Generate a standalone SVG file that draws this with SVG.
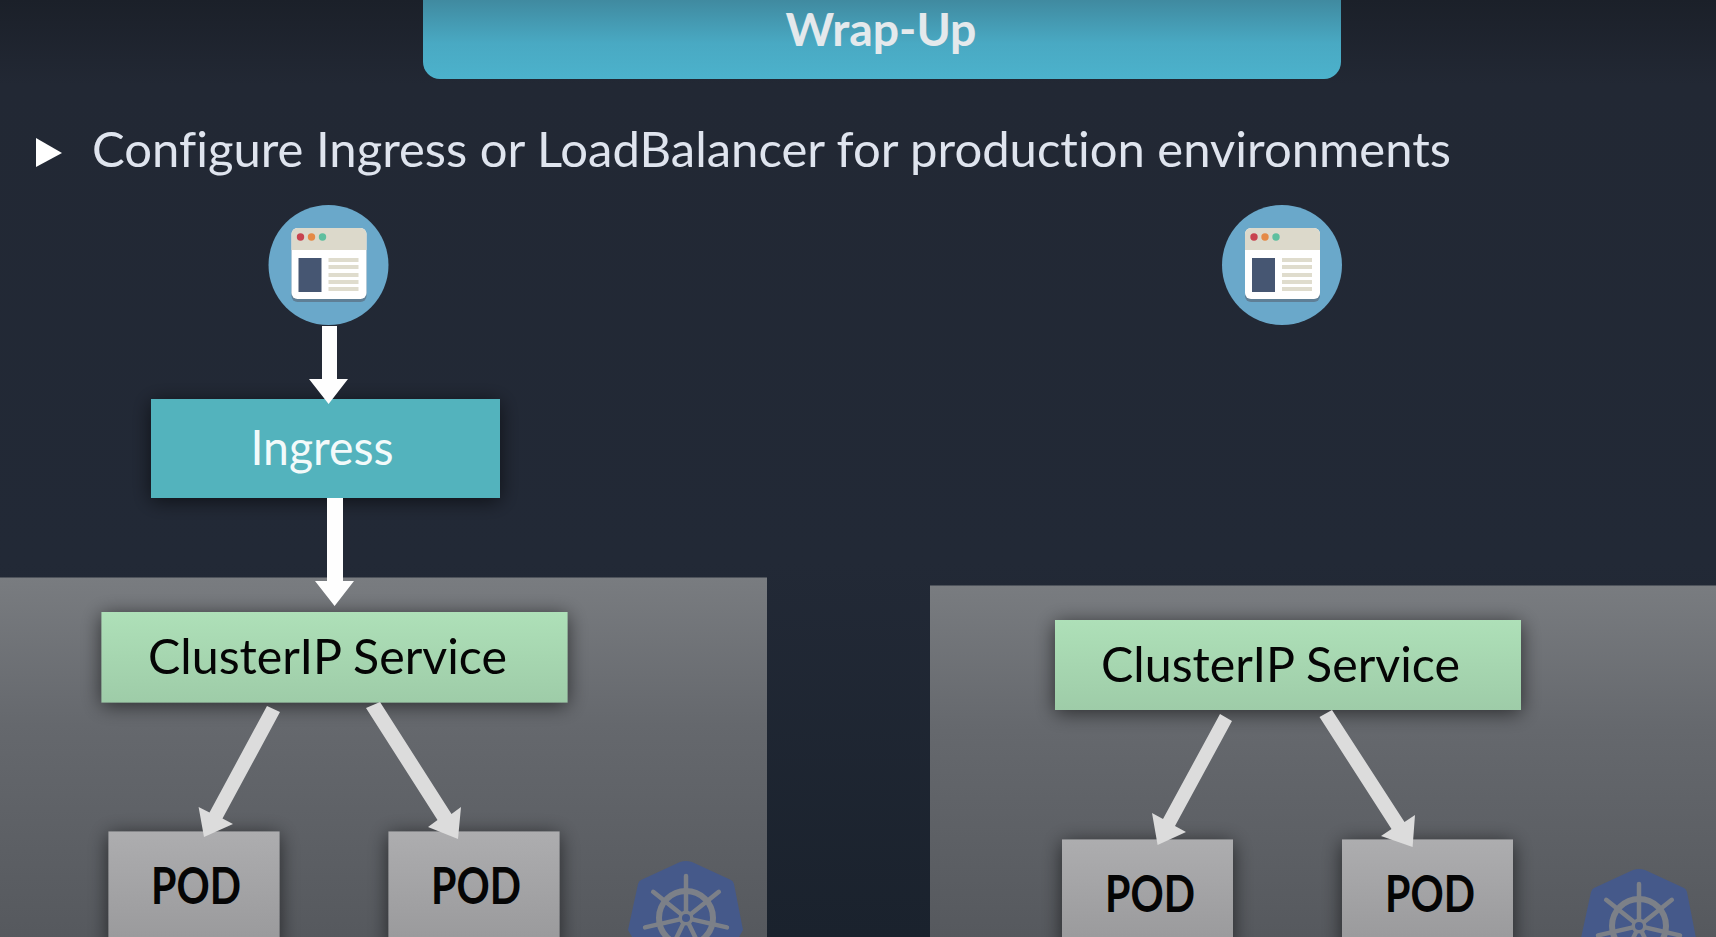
<svg xmlns="http://www.w3.org/2000/svg" width="1716" height="937" viewBox="0 0 1716 937">
<style>
text{font-family:"Lato","Open Sans","Liberation Sans",sans-serif;font-variant-ligatures:none}
.big{font-size:48px}
.pod{font-size:51px;font-weight:700;fill:#050505}
.ci{font-size:49px;fill:#050505}
.arrw{fill:#fefefe}
.arrg{fill:#dcdcdc}
</style>
<defs>
<linearGradient id="bg" x1="0" y1="0" x2="0" y2="1"><stop offset="0" stop-color="#1b2029"/><stop offset=".09" stop-color="#222834"/><stop offset=".6" stop-color="#222936"/><stop offset="1" stop-color="#1a222d"/></linearGradient>
<linearGradient id="banner" x1="0" y1="0" x2="0" y2="1"><stop offset="0" stop-color="#3e8398"/><stop offset=".6" stop-color="#49a9c3"/><stop offset="1" stop-color="#4cb2cc"/></linearGradient>
<linearGradient id="panel" x1="0" y1="0" x2="0" y2="1"><stop offset="0" stop-color="#797c80"/><stop offset=".4" stop-color="#65686d"/><stop offset="1" stop-color="#55585d"/></linearGradient>
<linearGradient id="green" x1="0" y1="0" x2="0" y2="1"><stop offset="0" stop-color="#aee0b8"/><stop offset="1" stop-color="#9ecca8"/></linearGradient>
<linearGradient id="podg" x1="0" y1="0" x2="0" y2="1"><stop offset="0" stop-color="#adadaf"/><stop offset="1" stop-color="#99999b"/></linearGradient>
<filter id="sh" x="-15%" y="-30%" width="130%" height="160%"><feDropShadow dx="0" dy="3" stdDeviation="10" flood-color="#000" flood-opacity=".6"/></filter>
<g id="browser">
<circle cx="0" cy="0" r="60" fill="#6aa8ca"/>
<rect x="-37" y="-35" width="75" height="72" rx="6" fill="#5f7f96"/>
<rect x="-37" y="-37" width="75" height="71" rx="6" fill="#ffffff"/>
<path d="M-37 -15V-31a6 6 0 0 1 6-6H32a6 6 0 0 1 6 6V-15Z" fill="#dcd9cb"/>
<circle cx="-28" cy="-28" r="3.700" fill="#c8434f"/><circle cx="-17" cy="-28" r="3.700" fill="#e58a46"/><circle cx="-6" cy="-28" r="3.700" fill="#5fbf9f"/>
<rect x="-30" y="-7" width="23" height="34" fill="#465672"/>
<g fill="#dfdccd"><rect x="0" y="-7" width="30" height="4"/><rect x="0" y="0" width="30" height="4"/><rect x="0" y="8" width="30" height="4"/><rect x="0" y="15" width="30" height="4"/><rect x="0" y="22" width="30" height="4"/></g>
</g>
<g id="k8s">
<path d="M-6 -56Q0 -58 6 -56L45 -38Q47 -37 48 -34L57 12L30 60H-30L-58 12L-48 -34Q-47 -37 -45 -38Z" fill="#45598a"/>
<g fill="none" stroke="#7c8088">
<circle cx="0" cy="0" r="27" stroke-width="6"/>
<g stroke-width="4.500" stroke-linecap="round">
<path d="M0 -4V-42"/>
<path d="M0 -4V-42" transform="rotate(51.4)"/><path d="M0 -4V-42" transform="rotate(102.9)"/><path d="M0 -4V-42" transform="rotate(154.3)"/><path d="M0 -4V-42" transform="rotate(205.7)"/><path d="M0 -4V-42" transform="rotate(257.1)"/><path d="M0 -4V-42" transform="rotate(308.6)"/>
</g>
</g>
<circle cx="0" cy="0" r="7.500" fill="#7c8088"/><circle cx="0" cy="0" r="4" fill="#45598a"/>
</g>
</defs>
<rect id="background" width="1716" height="937" fill="url(#bg)"/>
<g id="title">
<path d="M423 -10H1341V62a17 17 0 0 1-17 17H440a17 17 0 0 1-17-17Z" fill="url(#banner)"/>
<text x="881" y="46" text-anchor="middle" font-size="46" font-weight="700" fill="#e4e9ec" textLength="191" lengthAdjust="spacingAndGlyphs">Wrap-Up</text>
</g>
<g id="bullet">
<polygon points="36,138 36,167 62,153" fill="#ffffff"/>
<text class="big" x="92" y="167" fill="#dfe4ee" textLength="1359" lengthAdjust="spacingAndGlyphs">Configure Ingress or LoadBalancer for production environments</text>
</g>
<g id="cluster-left"><rect x="-10" y="577.500" width="777" height="370" fill="url(#panel)"/></g>
<g id="cluster-right"><rect x="930" y="585.500" width="796" height="362" fill="url(#panel)"/></g>
<g id="client-left"><use href="#browser" x="328.500" y="265"/></g>
<g id="client-right"><use href="#browser" x="1282" y="265"/></g>
<g id="ingress">
<rect x="151" y="399" width="349" height="99" fill="#53b3bd" filter="url(#sh)"/>
<text x="322" y="465" text-anchor="middle" font-size="48" fill="#f2fafa" textLength="143" lengthAdjust="spacingAndGlyphs">Ingress</text>
</g>
<g id="service-left">
<rect x="101.500" y="612" width="466" height="90.500" fill="url(#green)" filter="url(#sh)"/>
<text class="ci" x="148" y="674" textLength="359" lengthAdjust="spacingAndGlyphs">ClusterIP Service</text>
</g>
<g id="service-right">
<rect x="1055" y="620" width="466" height="90" fill="url(#green)" filter="url(#sh)"/>
<text class="ci" x="1101" y="682" textLength="359" lengthAdjust="spacingAndGlyphs">ClusterIP Service</text>
</g>
<g id="pod-1"><rect x="108.500" y="831.500" width="171" height="115" fill="url(#podg)" filter="url(#sh)"/><text class="pod" x="151" y="903.500" textLength="90" lengthAdjust="spacingAndGlyphs">POD</text></g>
<g id="pod-2"><rect x="388.500" y="831.500" width="171" height="115" fill="url(#podg)" filter="url(#sh)"/><text class="pod" x="431" y="903.500" textLength="90" lengthAdjust="spacingAndGlyphs">POD</text></g>
<g id="pod-3"><rect x="1062" y="839.500" width="171" height="107" fill="url(#podg)" filter="url(#sh)"/><text class="pod" x="1105" y="911.500" textLength="90" lengthAdjust="spacingAndGlyphs">POD</text></g>
<g id="pod-4"><rect x="1342" y="839.500" width="171" height="107" fill="url(#podg)" filter="url(#sh)"/><text class="pod" x="1385" y="911.500" textLength="90" lengthAdjust="spacingAndGlyphs">POD</text></g>
<g id="k8s-left"><use href="#k8s" x="686" y="918"/></g>
<g id="k8s-right"><use href="#k8s" x="1639" y="926"/></g>
<g id="connectors">
<polygon class="arrw" points="322,326 337,326 337,379 348,379 328.600,404 309,379 322,379"/>
<polygon class="arrw" points="327,498 343,498 343,581 354,581 334.600,606 315,581 327,581"/>
<polygon class="arrg" points="267,706 280,712 222.500,818.500 233,824 204,837 198.600,807 209.500,812.500"/>
<polygon class="arrg" points="366,708 380,702 451.500,814 461,807 458,839 428,827 437.500,820"/>
<polygon class="arrg" points="1220,714 1232,721 1175,826 1186,832 1157.600,845 1152,813 1163,819"/>
<polygon class="arrg" points="1319.500,717 1332,710 1404.500,822 1415,815 1412.600,847 1381,836 1391.500,829"/>
</g>
</svg>
